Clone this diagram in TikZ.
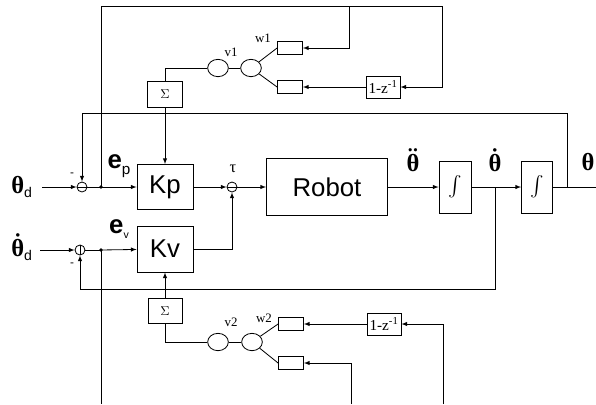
\documentclass[tikz,border=0pt]{standalone}
\usepackage{amsmath}
\usepackage[no-math]{fontspec}
\setmainfont{Liberation Sans}
\newfontfamily\tms{Liberation Serif}
\usetikzlibrary{shapes.geometric}
\newcommand{\thb}{\text{\tms\bfseries θ}}
\begin{document}
\begin{tikzpicture}[
      x=0.3mm,
      y=-0.3mm,
      line width=0.7pt,
      blk/.style={draw, inner sep=0pt},
      sumj/.style={draw, circle, minimum size=3mm, inner sep=0pt},
      neur/.style={draw, ellipse, minimum width=6.2mm, minimum height=5.2mm, inner sep=0pt},
      lbl/.style={font=\tms\fontsize{11}{12}\selectfont},
      big/.style={font=\fontsize{22}{24}\selectfont},
      th/.style={font=\fontsize{21}{24}\selectfont}
    ]
    \useasboundingbox (0,0) rectangle (596,404);

    % main row
    \node[sumj] (sp) at (82,187) {};
    \node[blk, big, minimum width=16.8mm, minimum height=13.5mm] (kp) at (165,187) {Kp};
    \node[sumj] (st) at (232,187) {};
    \node[blk, big, minimum width=36.3mm, minimum height=17.1mm] (robot) at (327,187) {Robot};
    \node[blk, minimum width=9.6mm, minimum height=15.6mm, font=\fontsize{17}{20}\selectfont]
    (int1) at (455,187) {$\int$};
    \node[blk, minimum width=9.3mm, minimum height=15.6mm, font=\fontsize{17}{20}\selectfont]
    (int2) at (537,187) {$\int$};
    \node[sumj] (sv) at (80,250) {};
    \node[blk, big, minimum width=16.8mm, minimum height=13.8mm] (kv) at (165,249) {Kv};

    \draw (sp.west) -- (sp.east) (st.west) -- (st.east) (sv.north) -- (sv.south);

    \coordinate (in1) at (42,187);
    \coordinate (in2) at (40,250);
    \coordinate (dp) at (101,187);
    \coordinate (dv) at (101,250);
    \coordinate (bv) at (495,187);
    \coordinate (bp) at (567,187);
    \coordinate (out) at (596,187);
    \coordinate (fb1) at (567,113);
    \coordinate (fb2) at (495,289);

    % upper adaptation loop
    \node[blk, lbl, minimum width=10.5mm, minimum height=7.8mm] (sig1) at (165,94) {$\Sigma$};
    \node[neur] (v1) at (218,68) {};
    \node[neur] (w1) at (251,68) {};
    \node[blk, minimum width=7.5mm, minimum height=3.9mm] (b1a) at (290,48) {};
    \node[blk, minimum width=7.5mm, minimum height=3.9mm] (b1b) at (290,87) {};
    \node[blk, inner sep=1pt, minimum width=10.2mm, minimum height=6.6mm, font=\tms\fontsize{13}{14}\selectfont]
    (z1) at (383,87) {1-z\textsuperscript{-1}};
    \coordinate (t1) at (101,6);
    \coordinate (t2) at (442,6);
    \coordinate (t3) at (349,6);

    % lower adaptation loop
    \node[blk, lbl, minimum width=10.2mm, minimum height=7.5mm] (sig2) at (165,311) {$\Sigma$};
    \node[neur] (v2) at (218,342) {};
    \node[neur] (w2) at (252,342) {};
    \node[blk, minimum width=7.5mm, minimum height=3.9mm] (b2a) at (291,324) {};
    \node[blk, minimum width=7.5mm, minimum height=3.9mm] (b2b) at (291,363) {};
    \node[blk, inner sep=1pt, minimum width=10.2mm, minimum height=6.6mm, font=\tms\fontsize{13}{14}\selectfont]
    (z2) at (384,324) {1-z\textsuperscript{-1}};
    \coordinate (u1) at (101,404);
    \coordinate (u2) at (443,404);
    \coordinate (u3) at (351,404);

    % labels
    \node[th] (thd) at (22,187) {$\thb_{\text{\fontsize{12}{12}\selectfont d}}$};
    \node[th] (thdd) at (22,247) {$\boldsymbol{\dot{\thb}}_{\text{\fontsize{12}{12}\selectfont d}}$};
    \node[font=\fontsize{10}{10}\selectfont] (mp) at (72,175) {-};
    \node[font=\fontsize{10}{10}\selectfont] (mv) at (72,265) {-};
    \node[font=\bfseries\fontsize{22}{24}\selectfont] (ep) at (119,166)
    {e\raisebox{-5pt}{\fontsize{13}{14}\selectfont\mdseries p}};
    \node[font=\bfseries\fontsize{22}{24}\selectfont] (ev) at (119,229)
    {e\raisebox{-4pt}{\fontsize{9}{10}\selectfont\mdseries v}};
    \node[font=\tms\fontsize{14}{15}\selectfont] (tau) at (233,169) {τ};
    \node[th] (acc) at (413,160) {$\boldsymbol{\ddot{\thb}}$};
    \node[th] (vel) at (495,160) {$\boldsymbol{\dot{\thb}}$};
    \node[th] (pos) at (588,162) {$\thb$};
    \node[lbl] at (231,52) {v1};
    \node[lbl] at (263,38) {w1};
    \node[lbl] at (231,322) {v2};
    \node[lbl] at (264,318) {w2};

    % signal flow
    \draw[-latex] (in1) -- (sp);
    \draw (sp) -- (dp);
    \draw[-latex] (dp) -- (kp);
    \draw[-latex] (kp) -- (st);
    \draw[-latex] (st) -- (robot);
    \draw[-latex] (robot) -- (int1);
    \draw[-latex] (int1) -- (int2);
    \draw (int2) -- (out);
    \draw[-latex] (bp) -- (fb1) -| (sp);
    \draw[-latex] (bv) -- (fb2) -| (sv);
    \draw[-latex] (in2) -- (sv);
    \draw (sv) -- (dv);
    \draw[-latex] (dv) -- (kv);
    \draw[-latex] (kv) -| (st);
    \fill (dp) circle (1.8) (dv) circle (1.8);

    \draw[-latex] (dp) -- (t1) -- (t2) |- (z1);
    \draw[-latex] (t3) |- (b1a);
    \draw[-latex] (z1) -- (b1b);
    \draw (sig1) |- (v1);
    \draw (v1) -- (w1);
    \draw (w1) -- (b1a.west) (w1) -- (b1b.west);
    \draw[-latex] (sig1) -- (kp);

    \draw (dv) -- (u1);
    \draw[-latex] (u2) |- (z2);
    \draw[-latex] (u3) |- (b2b);
    \draw[-latex] (z2) -- (b2a);
    \draw (sig2) |- (v2);
    \draw (v2) -- (w2);
    \draw (w2) -- (b2a.west) (w2) -- (b2b.west);
    \draw[-latex] (sig2) -- (kv);
  \end{tikzpicture}
\end{document}
